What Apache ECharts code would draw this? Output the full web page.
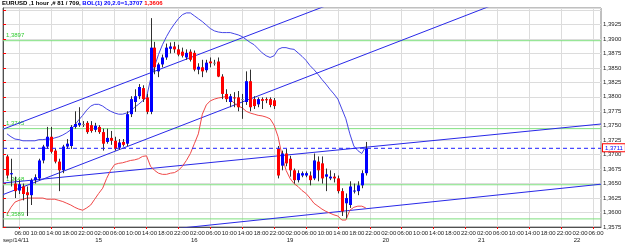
<!DOCTYPE html>
<html><head><meta charset="utf-8">
<script src="https://cdn.jsdelivr.net/npm/echarts@6/dist/echarts.min.js"></script>
<style>html,body{margin:0;padding:0;background:#fff;overflow:hidden}#c{width:625px;height:243px}</style>
</head><body><div id="c"></div>
<script>
// ---- data (hour index from Sep 14 00:00, weekend collapsed) ----
const firstBarHour = 1;
const opens = [
1.3697,1.3666,1.3650,1.3638,1.3645,1.3635,1.3630,1.3656,1.3659,1.3690,
1.3714,1.3731,1.3707,1.3688,1.3673,1.3714,1.3715,1.3748,1.3751,1.3753,
1.3755,1.3751,1.3743,1.3748,1.3739,1.3722,1.3729,1.3724,1.3712,1.3722,
1.3719,1.3770,1.3791,1.3801,1.3815,1.3799,1.3774,1.3885,1.3844,1.3856,
1.3868,1.3883,1.3887,1.3882,1.3878,1.3868,1.3878,1.3876,1.3847,1.3851,
1.3846,1.3861,1.3859,1.3861,1.3835,1.3805,1.3791,1.3799,1.3799,1.3796,
1.3791,1.3827,1.3796,1.3787,1.3796,1.3796,1.3796,1.3794,1.3710,1.3681,
1.3702,1.3693,1.3673,1.3656,1.3664,1.3664,1.3664,1.3659,1.3688,1.3685,
1.3662,1.3659,1.3662,1.3659,1.3637,1.3616,1.3613,1.3637,1.3637,1.3647,
1.3668];
const closes = [
1.3664,1.3668,1.3637,1.3649,1.3632,1.3630,1.3656,1.3661,1.3690,1.3714,
1.3731,1.3705,1.3688,1.3673,1.3714,1.3719,1.3748,1.3753,1.3755,1.3753,
1.3739,1.3741,1.3750,1.3739,1.3719,1.3729,1.3724,1.3710,1.3721,1.3717,
1.3770,1.3796,1.3801,1.3817,1.3796,1.3774,1.3885,1.3851,1.3856,1.3868,
1.3885,1.3887,1.3882,1.3873,1.3871,1.3876,1.3864,1.3847,1.3852,1.3844,
1.3859,1.3858,1.3859,1.3835,1.3805,1.3796,1.3801,1.3798,1.3782,1.3796,
1.3827,1.3782,1.3784,1.3796,1.3793,1.3794,1.3786,1.3784,1.3664,1.3702,
1.3685,1.3673,1.3656,1.3668,1.3668,1.3668,1.3656,1.3690,1.3673,1.3659,
1.3666,1.3662,1.3659,1.3637,1.3602,1.3625,1.3645,1.3638,1.3647,1.3668,
1.3711];
const lows = [
1.3659,1.3645,1.3625,1.3632,1.3621,1.3594,1.3613,1.3650,1.3656,1.3685,
1.3710,1.3702,1.3685,1.3637,1.3668,1.3710,1.3710,1.3745,1.3748,1.3748,
1.3736,1.3738,1.3739,1.3736,1.3707,1.3719,1.3717,1.3707,1.3709,1.3714,
1.3715,1.3765,1.3774,1.3796,1.3791,1.3770,1.3770,1.3839,1.3834,1.3851,
1.3864,1.3875,1.3876,1.3870,1.3868,1.3864,1.3861,1.3844,1.3839,1.3834,
1.3842,1.3851,1.3854,1.3834,1.3796,1.3791,1.3782,1.3782,1.3775,1.3762,
1.3786,1.3775,1.3779,1.3782,1.3779,1.3789,1.3782,1.3779,1.3659,1.3673,
1.3680,1.3662,1.3650,1.3652,1.3661,1.3661,1.3647,1.3656,1.3654,1.3650,
1.3637,1.3656,1.3652,1.3633,1.3594,1.3590,1.3608,1.3633,1.3630,1.3642,
1.3664];
const highs = [
1.3700,1.3693,1.3662,1.3656,1.3650,1.3645,1.3659,1.3666,1.3693,1.3717,
1.3748,1.3748,1.3710,1.3693,1.3717,1.3727,1.3751,1.3775,1.3782,1.3758,
1.3758,1.3758,1.3755,1.3751,1.3745,1.3745,1.3741,1.3731,1.3727,1.3727,
1.3775,1.3801,1.3813,1.3822,1.3820,1.3805,1.3936,1.3895,1.3859,1.3873,
1.3892,1.3894,1.3895,1.3890,1.3885,1.3882,1.3882,1.3880,1.3858,1.3864,
1.3864,1.3868,1.3864,1.3868,1.3839,1.3813,1.3805,1.3808,1.3810,1.3805,
1.3844,1.3847,1.3801,1.3799,1.3799,1.3799,1.3799,1.3798,1.3715,1.3707,
1.3710,1.3698,1.3676,1.3673,1.3671,1.3671,1.3671,1.3702,1.3697,1.3697,
1.3676,1.3673,1.3668,1.3664,1.3642,1.3633,1.3654,1.3650,1.3654,1.3673,
1.3722];
const bandUpper = [
1.3736,1.3731,1.3727,1.3726,1.3724,1.3724,1.3724,1.3724,1.3726,1.3726,
1.3727,1.3727,1.3729,1.3731,1.3734,1.3738,1.3743,1.3751,1.3760,1.3768,
1.3777,1.3784,1.3787,1.3787,1.3784,1.3779,1.3775,1.3772,1.3770,1.3770,
1.3772,1.3775,1.3782,1.3787,1.3793,1.3799,1.3830,1.3852,1.3873,1.3890,
1.3904,1.3916,1.3926,1.3935,1.3942,1.3945,1.3945,1.3940,1.3935,1.3930,
1.3924,1.3918,1.3914,1.3912,1.3911,1.3911,1.3911,1.3909,1.3907,1.3904,
1.3899,1.3894,1.3890,1.3883,1.3876,1.3871,1.3868,1.3871,1.3882,1.3885,
1.3885,1.3883,1.3882,1.3876,1.3870,1.3863,1.3854,1.3847,1.3839,1.3830,
1.3822,1.3813,1.3805,1.3796,1.3779,1.3762,1.3736,1.3715,1.3707,1.3702,
1.3714];
const bandLower = [
1.3597,1.3609,1.3618,1.3621,1.3623,1.3625,1.3625,1.3625,1.3625,1.3625,
1.3623,1.3623,1.3623,1.3621,1.3619,1.3616,1.3613,1.3609,1.3606,1.3604,
1.3608,1.3613,1.3623,1.3633,1.3642,1.3659,1.3673,1.3683,1.3685,1.3686,
1.3688,1.3690,1.3691,1.3693,1.3697,1.3698,1.3680,1.3673,1.3668,1.3666,
1.3666,1.3668,1.3669,1.3673,1.3680,1.3690,1.3702,1.3719,1.3736,1.3770,
1.3786,1.3793,1.3796,1.3798,1.3799,1.3801,1.3796,1.3789,1.3784,1.3781,
1.3775,1.3772,1.3770,1.3768,1.3767,1.3765,1.3762,1.3751,1.3731,1.3698,
1.3673,1.3659,1.3650,1.3645,1.3638,1.3633,1.3625,1.3616,1.3611,1.3606,
1.3602,1.3599,1.3596,1.3594,1.3587,1.3587,1.3604,1.3609,1.3611,1.3611,
1.3608];
// trend lines: [hour, price] end points
const trendA = [[0, 1.3744], [150, 1.4139]];
const trendB = [[0, 1.3631], [150, 1.4031]];
const trendC = [[0, 1.3651], [150, 1.3753]];
const trendD = [[0, 1.3541], [150, 1.3649]];
const levels = [1.3897, 1.3745, 1.3648, 1.3589];
const lastPrice = 1.3711;
const dayLabels = ['sep/14/11', '15', '16', '19', '20', '21', '22'];
const timeLabels = ['02:00', '06:00', '10:00', '14:00', '18:00', '22:00'];
const titleParts = ['EURUSD ,1 hour ,# 81 / 709, ', 'BOL(1) 20,2.0=1,3707 ', '1,3606'];

// ---- build ----
const barHours = opens.map((_, i) => firstBarHour + i);
const candles = barHours.map((h, i) => [h, opens[i], closes[i], lows[i], highs[i]]);
const upperData = barHours.map((h, i) => [h, bandUpper[i]]);
const lowerData = barHours.map((h, i) => [h, bandLower[i]]);
const fmtPrice = v => v.toFixed(4).replace('.', ',');
const FONT = 'Liberation Sans';

function renderCandle(params, api) {
  const x = api.value(0), o = api.value(1), c = api.value(2), l = api.value(3), h = api.value(4);
  const pH = api.coord([x, h]), pL = api.coord([x, l]), pO = api.coord([x, o]), pC = api.coord([x, c]);
  const cx = Math.round(pH[0]) + 0.5;
  const top = Math.min(pO[1], pC[1]), bot = Math.max(pO[1], pC[1]);
  const col = c > o ? '#0000ff' : (c < o ? '#ff0000' : '#909090');
  return {
    type: 'group',
    children: [
      { type: 'line', shape: { x1: cx, y1: pH[1], x2: cx, y2: pL[1] }, style: { stroke: '#303030', lineWidth: 1 } },
      { type: 'rect', shape: { x: cx - 1.5, y: top, width: 3, height: Math.max(bot - top, 1) }, style: { fill: col } }
    ]
  };
}

function trend(d) {
  return { type: 'line', data: d, symbol: 'none', lineStyle: { color: '#2828e8', width: 1 }, clip: true, silent: true, z: 3 };
}
function levelLine(v) {
  return {
    type: 'line', silent: true, z: 2, clip: false,
    symbol: 'circle', symbolSize: 0.1, showSymbol: true,
    lineStyle: { color: '#80e080', width: 1 }, itemStyle: { color: '#80e080' },
    data: [
      [0, v],
      { value: [0.5, v], label: { show: true, position: [1, -8], formatter: fmtPrice(v), color: '#33cc33', fontSize: 6, fontFamily: FONT } },
      [150, v]
    ]
  };
}
const lastLine = {
  type: 'line', silent: true, z: 6, clip: false,
  symbol: 'circle', symbolSize: 0.1, showSymbol: true,
  lineStyle: { color: '#2020ff', width: 1, type: [4, 3] }, itemStyle: { color: '#2020ff' },
  data: [
    [0, lastPrice],
    { value: [150, lastPrice], label: {
        show: true, position: [2, -4], formatter: fmtPrice(lastPrice),
        color: '#0000ff', fontSize: 6, fontFamily: FONT, backgroundColor: '#fff',
        borderColor: '#ff0000', borderWidth: 1, padding: [1, 2, 0, 2] } }
  ]
};

const chart = echarts.init(document.getElementById('c'), null, { renderer: 'canvas' });
chart.setOption({
  animation: false,
  backgroundColor: '#ffffff',
  title: {
    text: '{a|' + titleParts[0] + '}{b|' + titleParts[1] + '}{c|' + titleParts[2] + '}',
    left: 2, top: 0, padding: 0,
    textStyle: {
      fontFamily: FONT, fontSize: 6,
      rich: {
        a: { color: '#000', fontSize: 6, fontFamily: FONT },
        b: { color: '#0000ff', fontSize: 6, fontFamily: FONT },
        c: { color: '#ff0000', fontSize: 6, fontFamily: FONT }
      }
    }
  },
  grid: { left: 1, right: 24, top: 8, bottom: 14, show: true, borderColor: '#808080', borderWidth: 1 },
  xAxis: [{
    type: 'value', min: 0, max: 150, interval: 4, position: 'bottom',
    axisLine: { show: true, onZero: false, lineStyle: { color: '#505050' } },
    axisTick: { show: true, length: 2, lineStyle: { color: '#ff0000' }, customValues: [4,12,20,28,36,44,52,60,68,76,84,92,100,108,116,124,132,140,148] },
    splitLine: { show: true, lineStyle: { color: '#dcdcdc', width: 1 } },
    axisLabel: {
      fontSize: 6, fontFamily: FONT, color: '#222', margin: 3, padding: [0, 0, 0, 6],
      showMinLabel: true, showMaxLabel: true, hideOverlap: false,
      formatter: v => (v % 4 === 0 && v > 0 && v < 150) ? timeLabels[(v % 24) / 4] : ''
    }
  }, {
    type: 'value', min: 0, max: 150, interval: 4, position: 'bottom',
    axisLine: { show: false }, axisTick: { show: false }, splitLine: { show: false },
    axisLabel: {
      fontSize: 6, fontFamily: FONT, color: '#222', margin: 10, alignMinLabel: 'left',
      showMinLabel: true, hideOverlap: false,
      formatter: v => (v % 24 === 0 && v < 150) ? dayLabels[v / 24] : ''
    }
  }],
  yAxis: {
    type: 'value', position: 'right', min: 1.3575, max: 1.39535, interval: 0.0025,
    axisLine: { show: true, lineStyle: { color: '#505050' } },
    axisTick: { show: true, length: 3, lineStyle: { color: '#ff0000' } },
    splitLine: { show: true, lineStyle: { color: '#dcdcdc', width: 1 } },
    axisLabel: {
      fontSize: 6, fontFamily: FONT, color: '#222', margin: 2, showMaxLabel: false,
      formatter: v => {
        const k = v / 0.0025;
        return (Math.abs(k - Math.round(k)) < 1e-6 && v < 1.394) ? fmtPrice(v) : '';
      }
    }
  },
  series: [
    ...levels.map(levelLine),
    trend(trendA), trend(trendB), trend(trendC), trend(trendD),
    { type: 'line', name: 'upper', data: upperData, symbol: 'none', silent: true, z: 4,
      lineStyle: { color: '#4646e6', width: 1 } },
    { type: 'line', name: 'lower', data: lowerData, symbol: 'none', silent: true, z: 4,
      lineStyle: { color: '#f04848', width: 1 } },
    { type: 'custom', name: 'candles', data: candles, renderItem: renderCandle, z: 5,
      encode: { x: 0, y: [1, 2, 3, 4] }, clip: true, silent: true },
    lastLine
  ]
});
</script>
</body></html>
